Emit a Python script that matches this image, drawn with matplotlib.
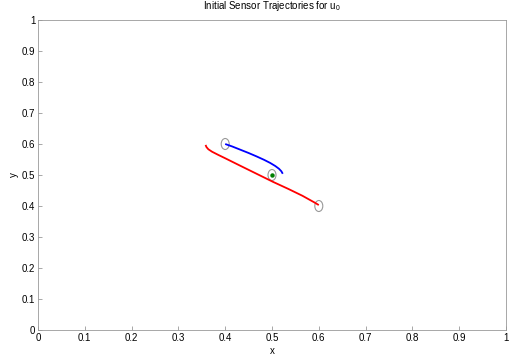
import matplotlib
matplotlib.use("Agg")
import matplotlib.pyplot as plt
from matplotlib.patches import Ellipse

plt.rcParams['font.family'] = ['Liberation Sans', 'DejaVu Sans']
plt.rcParams['mathtext.fontset'] = 'custom'
plt.rcParams['mathtext.rm'] = 'Liberation Sans'
plt.rcParams['mathtext.it'] = 'Liberation Sans'

# Sensor 1 trajectory (blue)
blue_x = [0.400, 0.415, 0.430, 0.450, 0.467, 0.483, 0.496, 0.507, 0.515, 0.520, 0.523]
blue_y = [0.600, 0.592, 0.583, 0.571, 0.560, 0.549, 0.539, 0.529, 0.520, 0.512, 0.504]
# Sensor 2 trajectory (red)
red_x = [0.358, 0.360, 0.364, 0.372, 0.385, 0.400, 0.432, 0.467, 0.502, 0.535, 0.565, 0.590, 0.600]
red_y = [0.597, 0.590, 0.583, 0.575, 0.565, 0.554, 0.530, 0.504, 0.478, 0.455, 0.433, 0.412, 0.403]
# initial positions (circles)
circ_x = [0.4, 0.5, 0.6]
circ_y = [0.6, 0.5, 0.4]
# target
target_x = [0.5]
target_y = [0.5]

ticks = [0, 0.1, 0.2, 0.3, 0.4, 0.5, 0.6, 0.7, 0.8, 0.9, 1]
tick_labels = ['0', '0.1', '0.2', '0.3', '0.4', '0.5', '0.6', '0.7', '0.8', '0.9', '1']

fig = plt.figure(figsize=(5.1, 3.6), dpi=100)
ax = fig.add_axes([38/510, 30/360, 468/510, 310/360])
ax.plot(blue_x, blue_y, color='#0000ff', lw=1.3, solid_capstyle='butt')
ax.plot(red_x, red_y, color='#ff0000', lw=1.3, solid_capstyle='butt')
for cx, cy in zip(circ_x, circ_y):
    ax.add_patch(Ellipse((cx, cy), 8/468, 11/310, fill=False, ec='#999999', lw=0.8))
ax.plot(target_x, target_y, 'o', color='#007f00', ms=3.2, mew=0)
ax.set_xlim(0, 1)
ax.set_ylim(0, 1)
ax.set_xticks(ticks)
ax.set_xticklabels(tick_labels)
ax.set_yticks(ticks)
ax.set_yticklabels(tick_labels)
ax.tick_params(direction='in', length=3, labelsize=7, color='#999999', width=0.6, pad=2)
for s in ax.spines.values():
    s.set_color('#999999')
    s.set_linewidth(0.6)
ax.set_xlabel('x', fontsize=7, labelpad=2)
ax.set_ylabel('y', fontsize=7, labelpad=2)
ax.set_title('Initial Sensor Trajectories for u$_{0}$', fontsize=7, pad=8)
fig.savefig('out.png', dpi=100)
